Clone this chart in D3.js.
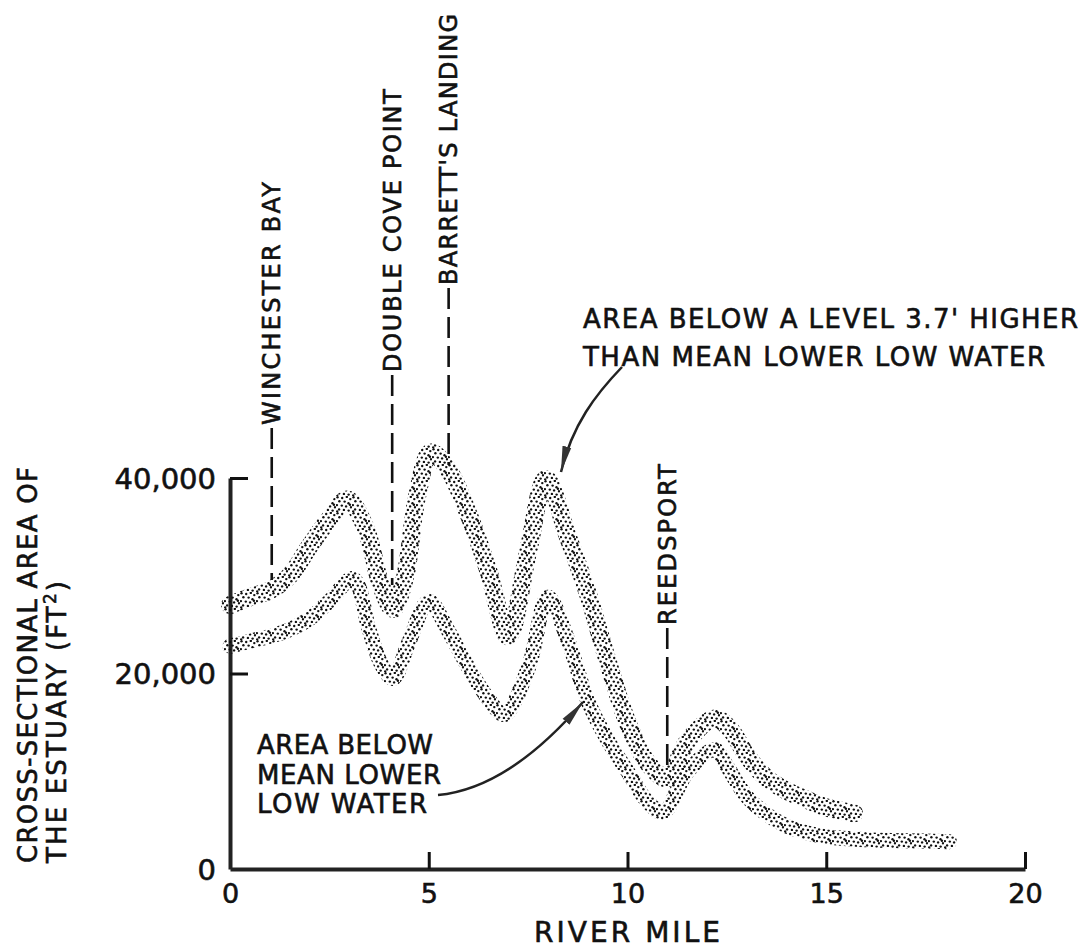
<!DOCTYPE html>
<html>
<head>
<meta charset="utf-8">
<script src="https://cdn.jsdelivr.net/npm/d3@7"></script>
<style>
  body { margin: 0; background: #fff; }
  svg { font-family: "DejaVu Sans", sans-serif; }
  text { fill: #111; stroke: #111; stroke-width: 0.6px; }
</style>
</head>
<body>
<svg id="render" width="1086" height="948"></svg>
<script>
// river mile / cross-sectional area (ft2)
const upperMiles = [0, 0.5, 1, 1.5, 2, 2.5, 2.95, 3.4, 3.8, 4.1, 4.4, 4.7, 5.05, 5.5, 6, 6.5, 7, 7.5, 7.95, 8.5, 9, 9.5, 10, 10.5, 11, 11.5, 12.2, 12.6, 13, 13.5, 14, 14.5, 15, 15.7];
const upperArea  = [27000, 27800, 28500, 30000, 33000, 35800, 37800, 35000, 29000, 26600, 29800, 38000, 42600, 40800, 36300, 30500, 23800, 32500, 39900, 34000, 28200, 21300, 15000, 10900, 9300, 13000, 15400, 14200, 11600, 9300, 8000, 7100, 6300, 5700];

const lowerMiles = [0, 0.5, 1, 1.5, 2, 2.5, 3.1, 3.5, 3.8, 4.1, 4.5, 5, 5.5, 6, 6.5, 6.9, 7.5, 8, 8.5, 9, 9.5, 10, 10.5, 10.9, 11.5, 12.2, 12.5, 13, 13.5, 14, 14.5, 15, 16, 17, 18.1];
const lowerArea  = [22800, 23300, 23800, 24500, 25600, 27400, 29700, 24500, 21000, 19500, 23200, 27400, 24300, 20600, 17400, 15800, 20500, 27800, 23400, 17200, 13200, 10000, 6900, 5800, 9900, 12200, 10500, 7400, 5600, 4400, 3700, 3300, 3000, 2900, 2800];

const xTicks = [0, 5, 10, 15, 20];
const yTicks = [0, 20000, 40000];

const placeNames = ["WINCHESTER BAY", "DOUBLE COVE POINT", "BARRETT'S LANDING", "REEDSPORT"];
const placeMiles = [1.05, 4.08, 5.5, 11.0];

const svg = d3.select("svg#render");

const xScale = d3.scaleLinear().domain([0, 20]).range([230, 1025]);
const yScale = d3.scaleLinear().domain([0, 40000]).range([869, 478]);

// stipple pattern for the bands
const defs = svg.append("defs");
const pat = defs.append("pattern")
    .attr("id", "stipple")
    .attr("patternUnits", "userSpaceOnUse")
    .attr("width", 16)
    .attr("height", 16);
[[1.5, 1.2], [6.2, 2], [10.8, 0.9], [14.3, 3.1], [3.4, 5.3], [8.6, 5.6], [12.5, 7.2],
 [0.9, 9.1], [5.8, 9.6], [10.1, 10.4], [15, 11.2], [3.1, 13.4], [7.9, 13.9], [12.6, 14.6],
 [1.2, 15.4], [13.9, 8.7]].forEach(p => {
    pat.append("circle").attr("cx", p[0]).attr("cy", p[1]).attr("r", 1.2).attr("fill", "#111");
});

defs.append("marker")
    .attr("id", "head")
    .attr("markerUnits", "userSpaceOnUse")
    .attr("viewBox", "0 -5 26 10")
    .attr("refX", 26)
    .attr("refY", 0)
    .attr("markerWidth", 26)
    .attr("markerHeight", 10)
    .attr("orient", "auto")
    .append("path")
    .attr("d", "M0,-4.5L26,0L0,4.5Z")
    .attr("fill", "#333");

// axes
const xAxis = svg.append("g")
    .attr("transform", `translate(0, ${yScale(0)})`)
    .call(d3.axisBottom(xScale).tickValues(xTicks).tickSize(-17).tickSizeOuter(0).tickPadding(15));
const yAxis = svg.append("g")
    .attr("transform", `translate(${xScale(0)}, 0)`)
    .call(d3.axisLeft(yScale).tickValues(yTicks).tickFormat(d3.format(",")).tickSize(-18).tickSizeOuter(0).tickPadding(14));

[xAxis, yAxis].forEach(g => {
    g.select(".domain").attr("stroke", "#222").attr("stroke-width", 4);
    g.selectAll(".tick line").attr("stroke", "#111").attr("stroke-width", 3);
    g.selectAll(".tick text").attr("fill", "#111").attr("font-family", "DejaVu Sans");
});
xAxis.selectAll(".tick text").attr("font-size", 27);
xAxis.selectAll(".tick").filter(d => d === 0).select("line").remove();
yAxis.selectAll(".tick text").attr("font-size", 29).attr("dy", "0.36em");
yAxis.selectAll(".tick").filter(d => d === 0).select("line").remove();

svg.append("text")
    .attr("x", 627).attr("y", 942)
    .attr("text-anchor", "middle")
    .attr("font-size", 28)
    .attr("textLength", 186)
    .attr("lengthAdjust", "spacing")
    .text("RIVER  MILE");

const yTitle = svg.append("g").attr("transform", "rotate(-90)");
yTitle.append("text")
    .attr("x", -863).attr("y", 37)
    .attr("font-size", 26)
    .attr("textLength", 396)
    .attr("lengthAdjust", "spacing")
    .text("CROSS-SECTIONAL  AREA  OF");
const t2 = yTitle.append("text")
    .attr("x", -863).attr("y", 66)
    .attr("font-size", 26)
    .attr("textLength", 282)
    .attr("lengthAdjust", "spacing");
t2.append("tspan").text("THE ESTUARY  (FT");
t2.append("tspan").attr("font-size", 17).attr("dy", -10).text("2");
t2.append("tspan").attr("dy", 10).text(")");

// bands
const line = d3.line()
    .x(d => xScale(d[0]))
    .y(d => yScale(d[1]))
    .curve(d3.curveCatmullRom.alpha(0.5));

const upper = upperMiles.map((m, i) => [m, upperArea[i]]);
const lower = lowerMiles.map((m, i) => [m, lowerArea[i]]);

svg.append("path")
    .datum(lower)
    .attr("d", line)
    .attr("fill", "none")
    .attr("stroke", "url(#stipple)")
    .attr("stroke-width", 15)
    .attr("stroke-linecap", "round");
svg.append("path")
    .datum(upper)
    .attr("d", line)
    .attr("fill", "none")
    .attr("stroke", "url(#stipple)")
    .attr("stroke-width", 18)
    .attr("stroke-linecap", "round");

// place markers: text start (bottom of text) and bottom of dashed line, in px
const markerTop = [425, 372, 285, 625];
const markerBottom = [580, 585, 465, 772];
const markerLen = [243, 283, 271, 161];

placeNames.forEach((name, i) => {
    const x = xScale(placeMiles[i]);
    svg.append("line")
        .attr("x1", x).attr("x2", x)
        .attr("y1", markerTop[i] + 3).attr("y2", markerBottom[i])
        .attr("stroke", "#111")
        .attr("stroke-width", 2.6)
        .attr("stroke-dasharray", "21,8");
    svg.append("text")
        .attr("transform", `translate(${x + 8.5}, ${markerTop[i]}) rotate(-90)`)
        .attr("font-size", 24)
        .attr("textLength", markerLen[i])
        .attr("lengthAdjust", "spacing")
        .text(name);
});

// annotations
const note1 = ["AREA BELOW A LEVEL 3.7' HIGHER", "THAN MEAN LOWER LOW WATER"];
const note2 = ["AREA BELOW", "MEAN LOWER", "LOW WATER"];

svg.append("text").attr("x", 583).attr("y", 328).attr("font-size", 26)
    .attr("textLength", 495).attr("lengthAdjust", "spacing").text(note1[0]);
svg.append("text").attr("x", 583).attr("y", 366).attr("font-size", 26)
    .attr("textLength", 462).attr("lengthAdjust", "spacing").text(note1[1]);

[[176, 754], [184, 784], [170, 813]].forEach((p, i) => {
    svg.append("text").attr("x", 257).attr("y", p[1]).attr("font-size", 26)
        .attr("textLength", p[0]).attr("lengthAdjust", "spacing").text(note2[i]);
});

svg.append("path")
    .attr("d", "M622,367C596,394 572,425 561,472")
    .attr("fill", "none").attr("stroke", "#222").attr("stroke-width", 2.5)
    .attr("marker-end", "url(#head)");
svg.append("path")
    .attr("d", "M438,795C492,790 540,752 583,702")
    .attr("fill", "none").attr("stroke", "#222").attr("stroke-width", 2.5)
    .attr("marker-end", "url(#head)");
</script>
</body>
</html>
